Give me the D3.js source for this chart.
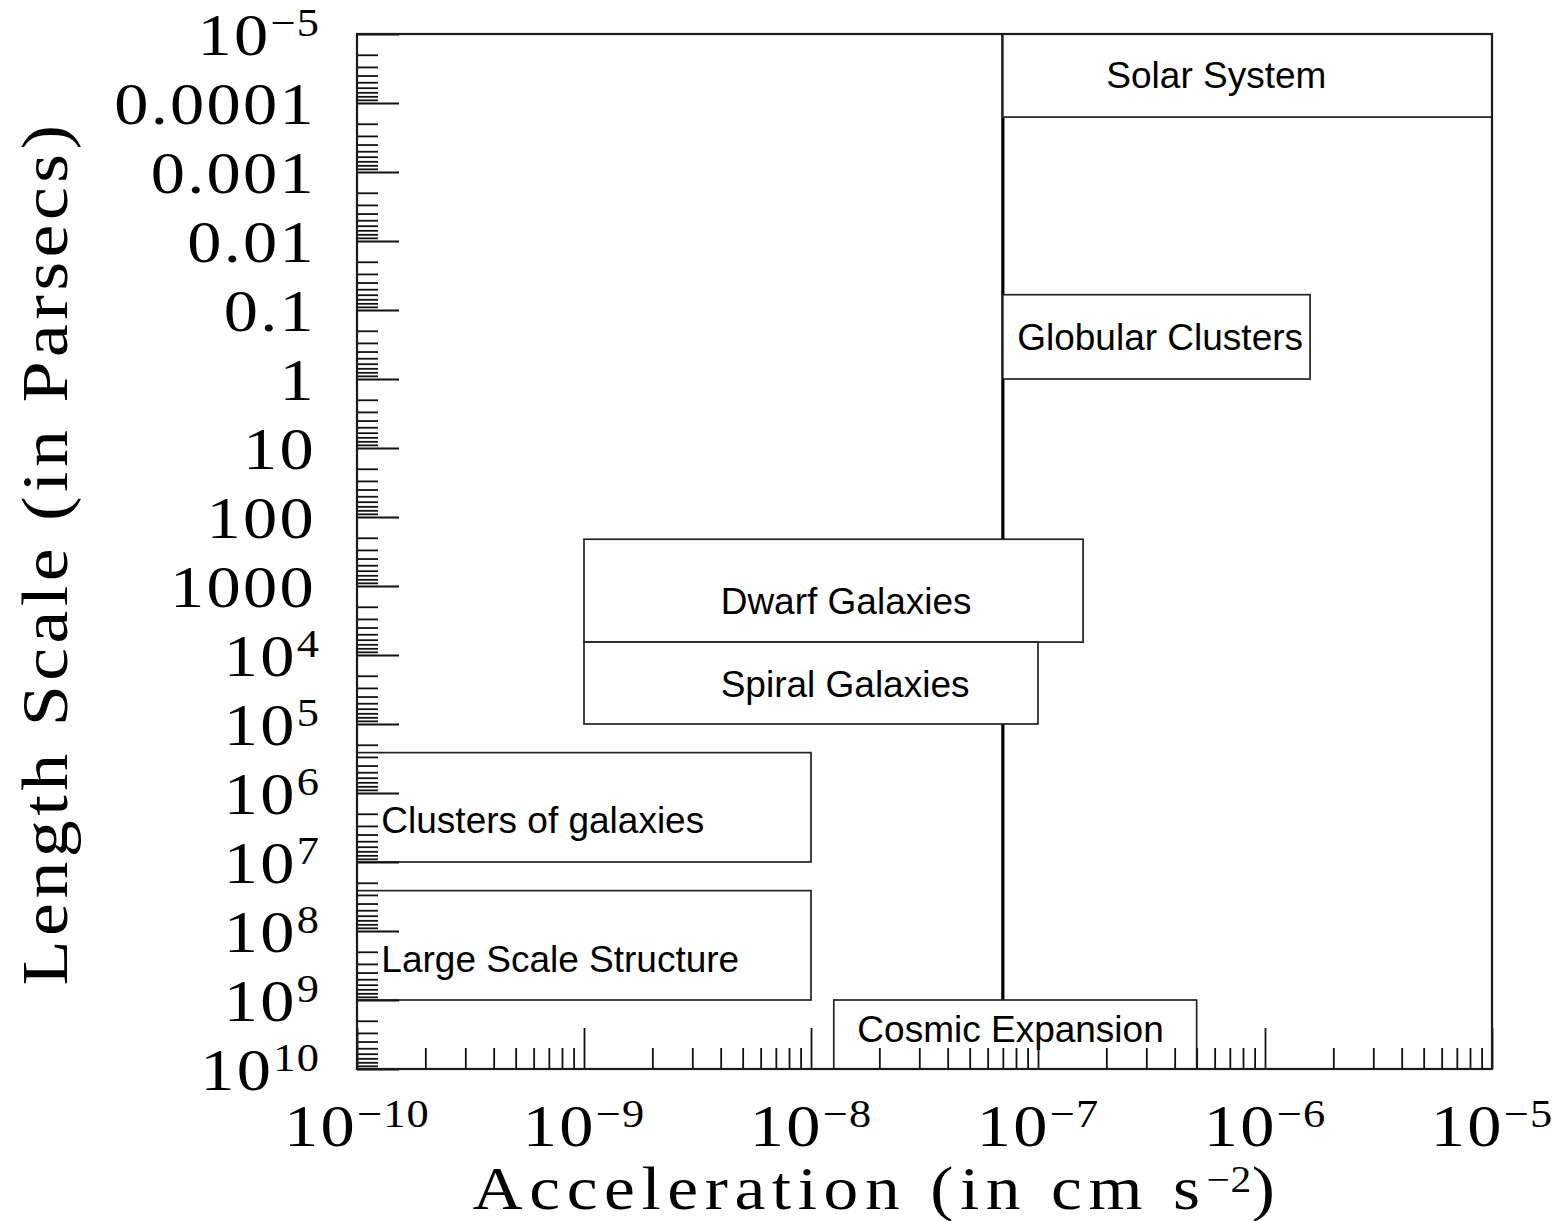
<!DOCTYPE html>
<html>
<head>
<meta charset="utf-8">
<script src="https://cdn.jsdelivr.net/npm/d3@7"></script>
<style>
  body { margin: 0; background: #fff; }
  svg { display: block; }
</style>
</head>
<body>
<svg id="chart" width="1566" height="1221"></svg>
<script>
// Physical systems placed by characteristic acceleration (cm s^-2) and length scale (pc)
const regionNames  = ["Solar System", "Globular Clusters", "Dwarf Galaxies", "Spiral Galaxies",
                      "Clusters of galaxies", "Large Scale Structure", "Cosmic Expansion"];
const accelMin     = [7e-8,   7e-8,    1e-9,    1e-9,    1e-10,   1e-10,   1.26e-8];
const accelMax     = [1e-5,   1.58e-6, 1.58e-7, 1e-7,    1e-8,    1e-8,    5e-7];
const lengthMin    = [1e-5,   0.06,    210,     6500,    2.6e5,   2.6e7,   1e9];
const lengthMax    = [1.6e-4, 1,       6500,    1e5,     1e7,     1e9,     1e10];
// where each label's baseline starts, in the same data units
const labelAccel   = [2.0e-7, 8.1e-8,  4.0e-9,  4.0e-9,  1.28e-10, 1.28e-10, 1.6e-8];
const labelLength  = [6.1e-5, 0.38,    2550,    4.06e4,  3.8e6,    3.9e8,    4.06e9];

// characteristic acceleration marked by the vertical line
const a0 = 7e-8;

// axis ticks and their labels
const xTickValues = [1e-10, 1e-9, 1e-8, 1e-7, 1e-6, 1e-5];
const xTickBase   = ["10", "10", "10", "10", "10", "10"];
const xTickSup    = ["\u221210", "\u22129", "\u22128", "\u22127", "\u22126", "\u22125"];

const yTickValues = [1e-5, 1e-4, 1e-3, 1e-2, 1e-1, 1, 10, 100, 1000, 1e4, 1e5, 1e6, 1e7, 1e8, 1e9, 1e10];
const yTickBase   = ["10", "0.0001", "0.001", "0.01", "0.1", "1", "10", "100", "1000",
                     "10", "10", "10", "10", "10", "10", "10"];
const yTickSup    = ["\u22125", "", "", "", "", "", "", "", "",
                     "4", "5", "6", "7", "8", "9", "10"];

const svg = d3.select("#chart");
const plotLeft = 357, plotRight = 1492, plotTop = 34, plotBottom = 1069;

const x = d3.scaleLog().domain([1e-10, 1e-5]).range([plotLeft, plotRight]);
const y = d3.scaleLog().domain([1e-5, 1e10]).range([plotTop, plotBottom]);

const serif = "'Liberation Serif', 'Times New Roman', serif";
const sans  = "'Liberation Sans', Arial, Helvetica, sans-serif";
const ink = "#111";

// minor tick values (2..9 within every decade)
function minors(scale) {
  const [d0, d1] = scale.domain();
  const out = [];
  for (let e = Math.round(Math.log10(d0)); e < Math.round(Math.log10(d1)); e++) {
    for (let k = 2; k <= 9; k++) out.push(k * Math.pow(10, e));
  }
  return out;
}

// critical-acceleration line
svg.append("line")
  .attr("x1", x(a0)).attr("x2", x(a0))
  .attr("y1", y(1e-5)).attr("y2", y(1e10))
  .attr("stroke", "#000").attr("stroke-width", 3.2);

// region boxes (white filled, so the line is hidden behind them)
const idx = d3.range(regionNames.length);
svg.append("g").selectAll("rect").data(idx).join("rect")
  .attr("x", i => x(accelMin[i]))
  .attr("y", i => y(lengthMin[i]))
  .attr("width", i => x(accelMax[i]) - x(accelMin[i]))
  .attr("height", i => y(lengthMax[i]) - y(lengthMin[i]))
  .attr("fill", "#fff")
  .attr("stroke", "#222").attr("stroke-width", 1.7);

svg.append("g").selectAll("text").data(idx).join("text")
  .attr("x", i => x(labelAccel[i]))
  .attr("y", i => y(labelLength[i]))
  .attr("font-family", sans)
  .attr("font-size", 37)
  .attr("fill", "#000")
  .text(i => regionNames[i]);

// ticks (inward) drawn with d3 axes
function styleAxis(g) {
  g.select(".domain").remove();
  g.selectAll(".tick line").attr("stroke", ink).attr("stroke-width", 1.8);
  g.selectAll(".tick text").remove();
}
svg.append("g").attr("transform", `translate(0,${plotBottom})`)
  .call(d3.axisBottom(x).tickValues(minors(x)).tickSize(-21).tickFormat(""))
  .call(styleAxis);
svg.append("g").attr("transform", `translate(0,${plotBottom})`)
  .call(d3.axisBottom(x).tickValues(xTickValues).tickSize(-41).tickFormat(""))
  .call(styleAxis);
svg.append("g").attr("transform", `translate(${plotLeft},0)`)
  .call(d3.axisLeft(y).tickValues(minors(y)).tickSize(-21).tickFormat(""))
  .call(styleAxis);
svg.append("g").attr("transform", `translate(${plotLeft},0)`)
  .call(d3.axisLeft(y).tickValues(yTickValues).tickSize(-42).tickFormat(""))
  .call(styleAxis);

// plot frame
svg.append("rect")
  .attr("x", plotLeft).attr("y", plotTop)
  .attr("width", plotRight - plotLeft).attr("height", plotBottom - plotTop)
  .attr("fill", "none").attr("stroke", "#1a1a1a").attr("stroke-width", 2.2);

// tick labels with superscript exponents
const stretch = 1.14;
function tickLabel(g, tx, ty, base, sup, anchor) {
  const t = g.append("text")
    .attr("transform", `translate(${tx},${ty}) scale(${stretch},1)`)
    .attr("text-anchor", anchor)
    .attr("font-family", serif)
    .attr("font-size", 60)
    .attr("letter-spacing", 2)
    .attr("fill", "#000");
  t.append("tspan").text(base);
  if (sup) t.append("tspan").attr("dy", -19).attr("font-size", 39).attr("letter-spacing", 1).text(sup);
  return t;
}

const xl = svg.append("g");
xTickValues.forEach((v, i) => tickLabel(xl, x(v), 1146, xTickBase[i], xTickSup[i], "middle"));

const yl = svg.append("g");
yTickValues.forEach((v, i) => tickLabel(yl, yTickSup[i] ? 320 : 316, y(v) + 21, yTickBase[i], yTickSup[i], "end"));

// axis titles: glyphs widened, then spacing adjusted to the target width
function fitWidth(t, target, sx, fixedChars) {
  const w = t.node().getComputedTextLength();
  const n = t.text().length - (fixedChars || 0);
  t.attr("letter-spacing", (target / sx - w) / n);
}

const titleStretch = 1.12;
const xt = svg.append("text")
  .attr("transform", `translate(877,1209) scale(${titleStretch},1)`)
  .attr("text-anchor", "middle")
  .attr("font-family", serif).attr("font-size", 62).attr("fill", "#000");
xt.append("tspan").text("Acceleration (in cm s");
xt.append("tspan").attr("dy", -17).attr("font-size", 37).attr("letter-spacing", 0.5).text("\u22122");
xt.append("tspan").attr("dy", 17).text(")");
fitWidth(xt, 809, titleStretch, 2);

const yt = svg.append("text")
  .attr("transform", `translate(67,553) rotate(-90) scale(${titleStretch},1)`)
  .attr("text-anchor", "middle")
  .attr("font-family", serif).attr("font-size", 66).attr("fill", "#000")
  .text("Length Scale (in Parsecs)");
fitWidth(yt, 865, titleStretch);
</script>
</body>
</html>
